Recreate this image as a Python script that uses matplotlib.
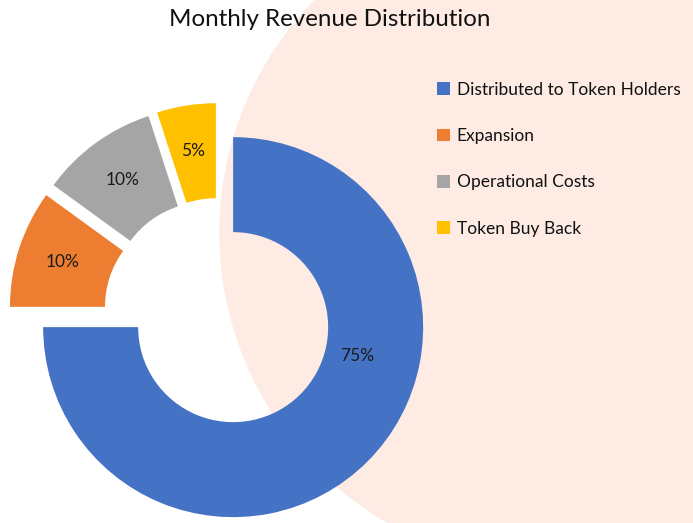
import numpy as np
import matplotlib.pyplot as plt
from matplotlib.patches import Ellipse

labels = ['Distributed to Token Holders', 'Expansion', 'Operational Costs', 'Token Buy Back']
shares = [75, 10, 10, 5]
colors = ['#4472C4', '#ED7D31', '#A5A5A5', '#FFC000']

W, H = 693, 523
fig = plt.figure(figsize=(W / 100, H / 100), dpi=100)
ax = fig.add_axes([0, 0, 1, 1])

# peach backdrop
ax.add_patch(Ellipse((558, 290), 676, 670, color='#FDEBE4', zorder=0))

cx, cy = 219, 210
R = 190
wedges, texts, pcts = ax.pie(shares, colors=colors, startangle=90, counterclock=False,
                             explode=[20] * 4, radius=R, center=(cx, cy),
                             wedgeprops=dict(width=R / 2, linewidth=0),
                             autopct='%d%%', pctdistance=0.76, frame=True,
                             textprops=dict(fontsize=12.5, color='#1a1a1a',
                                            family=['Lato', 'DejaVu Sans']))
ax.set_xlim(0, W)
ax.set_ylim(0, H)
ax.axis('off')

# first label sits lower than mid angle in the original
a = np.deg2rad(-13)
bx, by = wedges[0].center
pcts[0].set_position((bx + 0.67 * R * np.cos(a), by + 0.67 * R * np.sin(a)))

ax.text(330, H - 19, 'Monthly Revenue Distribution', ha='center', va='center',
        fontsize=17.4, color='#111111', family=['Lato', 'DejaVu Sans'])

leg = ax.legend(wedges, labels, loc='upper left', bbox_to_anchor=(421 / W, 1 - 66 / H),
                frameon=False, handlelength=0.75, handleheight=0.75,
                handletextpad=0.4, labelspacing=1.75,
                prop=dict(family=['Lato', 'DejaVu Sans'], size=12.5))
for t in leg.get_texts():
    t.set_color('#111111')

fig.savefig('out.png', dpi=100)
